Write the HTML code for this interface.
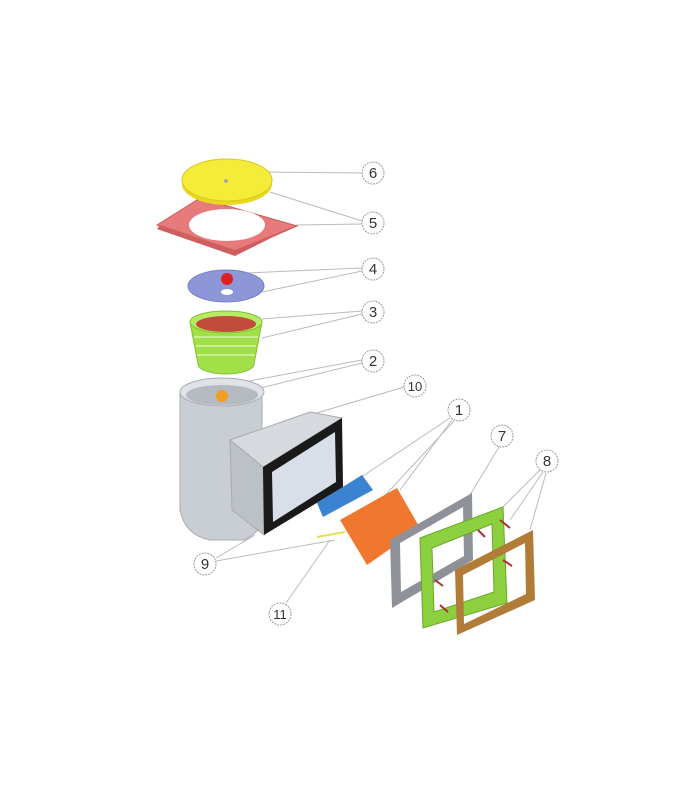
<!DOCTYPE html>
<html><head><style>body{margin:0;background:#fff}svg{display:block}</style></head><body>
<svg width="700" height="800" viewBox="0 0 700 800" xmlns="http://www.w3.org/2000/svg" font-family="Liberation Sans, sans-serif">
<g stroke="#bbb" stroke-width="1" fill="none">
<line x1="262" y1="172" x2="362" y2="173"/>
<line x1="270" y1="192" x2="362" y2="221"/>
<line x1="296" y1="225" x2="362" y2="224"/>
<line x1="245" y1="273" x2="362" y2="268"/>
<line x1="262" y1="292" x2="362" y2="271"/>
<line x1="262" y1="319" x2="362" y2="311"/>
<line x1="262" y1="338" x2="362" y2="314"/>
<line x1="228" y1="385" x2="362" y2="360"/>
<line x1="232" y1="395" x2="362" y2="363"/>
<line x1="310" y1="415" x2="404" y2="387"/>
<line x1="360" y1="478" x2="450" y2="418"/>
<line x1="400" y1="490" x2="452" y2="420"/>
<line x1="352" y1="531" x2="454" y2="421"/>
<line x1="470" y1="495" x2="499" y2="447"/>
<line x1="500" y1="510" x2="540" y2="470"/>
<line x1="510" y1="520" x2="543" y2="472"/>
<line x1="530" y1="530" x2="546" y2="473"/>
<line x1="216" y1="558" x2="255" y2="535"/>
<line x1="216" y1="561" x2="335" y2="540"/>
<line x1="286" y1="603" x2="330" y2="540"/>
</g>
<!-- red frame -->
<polygon points="157,225 200,198 297,226 235,253" fill="#e77a7a" stroke="#c85a5a"/>
<polygon points="160,225 235,250 295,226 235,256 157,229" fill="#cf5e5e"/>
<ellipse cx="227" cy="225" rx="38" ry="16" fill="#fff"/>
<!-- yellow lid -->
<ellipse cx="227" cy="184" rx="45" ry="21" fill="#e8d820"/>
<ellipse cx="227" cy="180" rx="45" ry="21" fill="#f5ec3a" stroke="#d8c81a"/>
<circle cx="226" cy="181" r="2" fill="#aa9"/>
<!-- blue disc -->
<ellipse cx="226" cy="286" rx="38" ry="16" fill="#8d97d8" stroke="#7680c8"/>
<circle cx="227" cy="279" r="6" fill="#e02020"/>
<ellipse cx="227" cy="292" rx="6" ry="3" fill="#fff"/>
<!-- basket -->
<path d="M190,322 L198,364 A28,10 0 0 0 254,364 L262,322 Z" fill="#a2e04a" stroke="#80c030"/>
<ellipse cx="226" cy="322" rx="36" ry="11" fill="#b6ec64" stroke="#80c030"/>
<ellipse cx="226" cy="324" rx="30" ry="8" fill="#c24c3c"/>
<g stroke="#d8f4a8" stroke-width="1.5"><line x1="194" y1="337" x2="258" y2="337"/><line x1="196" y1="346" x2="256" y2="346"/><line x1="197" y1="355" x2="255" y2="355"/></g>
<!-- body -->
<path d="M180,392 L180,510 Q185,535 210,540 L245,540 Q262,530 262,520 L262,392 Z" fill="#c9cdd4" stroke="#a9adb4"/>
<ellipse cx="222" cy="392" rx="42" ry="14" fill="#dfe2e6" stroke="#a9adb4"/>
<ellipse cx="222" cy="395" rx="36" ry="10" fill="#b5b9c0"/>
<circle cx="222" cy="396" r="6" fill="#f0a020"/>
<polygon points="230,440 310,412 342,418 263,467" fill="#d6d9de" stroke="#aaa"/>
<polygon points="230,440 263,467 264,535 232,510" fill="#bcc0c7" stroke="#aaa"/>
<polygon points="263,467 342,418 343,487 264,535" fill="#1a1a1a"/>
<polygon points="272,472 335,432 336,482 273,522" fill="#d8dfe8"/>
<!-- blue plate -->
<polygon points="317,503 362,475 373,490 323,517" fill="#3b82d0"/>
<!-- orange flap -->
<polygon points="340,520 397,488 420,528 367,565" fill="#f0782e"/>
<line x1="317" y1="537" x2="345" y2="532" stroke="#e8e050" stroke-width="2"/>
<!-- gasket 7 -->
<path d="M390,540 L472,493 L473,560 L392,608 Z M400,543 L463,507 L464,556 L401,592 Z" fill="#8e9298" fill-rule="evenodd"/>
<!-- green frame 8 -->
<path d="M420,538 L503,507 L507,603 L423,628 Z M432,548 L492,524 L494,592 L434,612 Z" fill="#8cd040" stroke="#6aa828" fill-rule="evenodd"/>
<!-- brown frame -->
<path d="M455,570 L533,530 L535,600 L457,635 Z M463,575 L525,543 L526,594 L464,624 Z" fill="#b07c38" fill-rule="evenodd"/>
<g stroke="#b03030" stroke-width="2"><line x1="500" y1="520" x2="510" y2="528"/><line x1="503" y1="560" x2="512" y2="566"/><line x1="435" y1="580" x2="443" y2="586"/><line x1="440" y1="605" x2="448" y2="612"/><line x1="478" y1="530" x2="485" y2="537"/></g>
<!-- labels -->
<g fill="#fff" stroke="#999" stroke-dasharray="2,1">
<circle cx="373" cy="173" r="11"/><circle cx="373" cy="223" r="11"/><circle cx="373" cy="269" r="11"/><circle cx="373" cy="312" r="11"/><circle cx="373" cy="361" r="11"/><circle cx="415" cy="386" r="11"/><circle cx="459" cy="410" r="11"/><circle cx="502" cy="436" r="11"/><circle cx="547" cy="461" r="11"/><circle cx="205" cy="564" r="11"/><circle cx="280" cy="614" r="11"/>
</g>
<g font-size="15" fill="#333" text-anchor="middle">
<text x="373" y="178">6</text><text x="373" y="228">5</text><text x="373" y="274">4</text><text x="373" y="317">3</text><text x="373" y="366">2</text><text x="415" y="391" font-size="13">10</text><text x="459" y="415">1</text><text x="502" y="441">7</text><text x="547" y="466">8</text><text x="205" y="569">9</text><text x="280" y="619" font-size="13">11</text>
</g>
</svg>
</body></html>
